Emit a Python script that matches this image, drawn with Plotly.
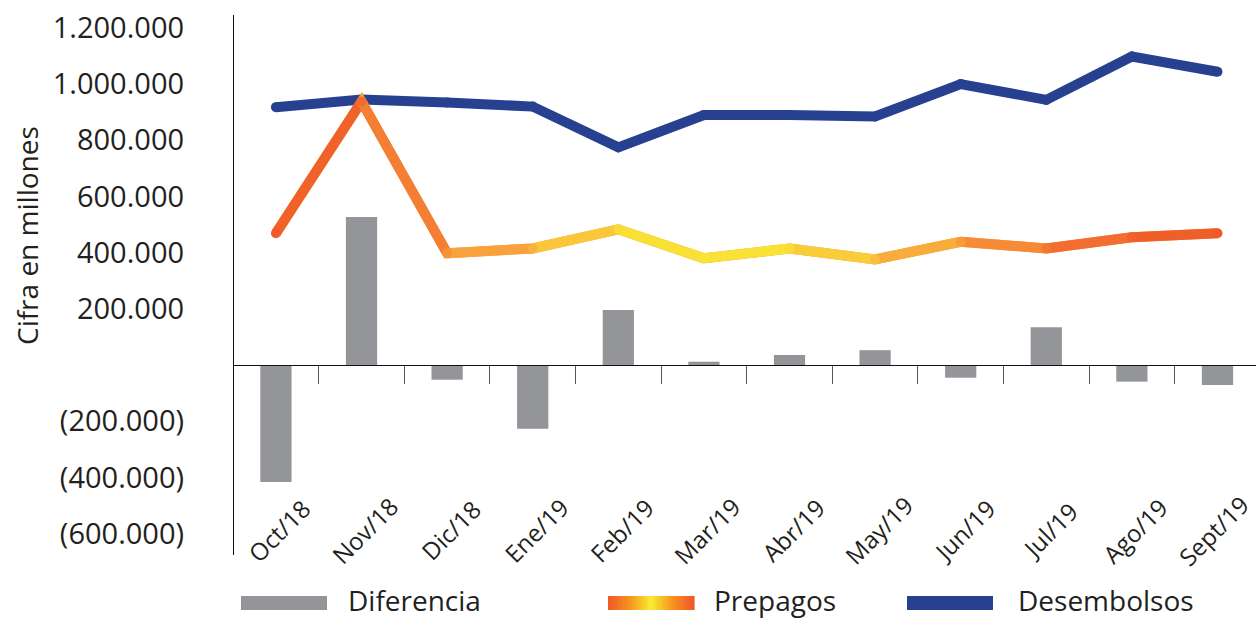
import plotly.graph_objects as go

categories = ["Oct/18", "Nov/18", "Dic/18", "Ene/19", "Feb/19", "Mar/19",
              "Abr/19", "May/19", "Jun/19", "Jul/19", "Ago/19", "Sept/19"]
diferencia = [-416000, 527000, -52000, -227000, 196000, 12000,
              36000, 53000, -45000, 135000, -59000, -71000]
prepagos = [469000, 938000, 398000, 415000, 483000, 380000,
            415000, 376000, 439000, 415000, 455000, 469000]
desembolsos = [918000, 945000, 935000, 920000, 775000, 890000,
               890000, 885000, 1000000, 944000, 1098000, 1044000]
y_ticks = [-600000, -400000, -200000, 0, 200000, 400000, 600000, 800000, 1000000, 1200000]

# style
FONT = "Open Sans"
TXT = "#231F20"
GREY = "#939598"
BLUE = "#274190"
prep_colors = ["#F05A28", "#F26B2C", "#F7923A", "#FAB23F", "#F9DC35", "#F9E535",
               "#F9DD35", "#F9BD3F", "#F89C3A", "#F37932", "#F1612C", "#F05A28"]

W, H = 1256, 618
L, R, T, B = 234, 0, 15, 63
PW, PH = W - L - R, H - T - B


def px_x(px):
    return (px - L) / PW


def px_y(py):
    return (H - B - py) / PH


def blend(c1, c2, t=0.5):
    a = [int(c1[i:i + 2], 16) for i in (1, 3, 5)]
    b = [int(c2[i:i + 2], 16) for i in (1, 3, 5)]
    return "#" + "".join(f"{round(a[k] + (b[k] - a[k]) * t):02X}" for k in range(3))


def fmt(v):
    if v == 0:
        return ""
    s = f"{abs(v):,}".replace(",", ".")
    return f"({s})" if v < 0 else s


fig = go.Figure()

fig.add_trace(go.Bar(x=categories, y=diferencia, marker=dict(color=GREY, line=dict(width=0)),
                     width=0.365, name="Diferencia", showlegend=False))

fig.add_trace(go.Scatter(x=categories, y=desembolsos, mode="lines+markers",
                         line=dict(color=BLUE, width=10),
                         marker=dict(color=BLUE, size=10, line=dict(width=0)),
                         name="Desembolsos", showlegend=False))

# Prepagos: base line + coloured segments + coloured vertices
fig.add_trace(go.Scatter(x=categories, y=prepagos, mode="lines",
                         line=dict(color="#F6A03A", width=10), showlegend=False, hoverinfo="skip"))
for i in range(len(categories) - 1):
    fig.add_trace(go.Scatter(x=categories[i:i + 2], y=prepagos[i:i + 2], mode="lines",
                             line=dict(color=blend(prep_colors[i], prep_colors[i + 1]), width=10),
                             showlegend=False, hoverinfo="skip"))
fig.add_trace(go.Scatter(x=categories, y=prepagos, mode="markers",
                         marker=dict(color=prep_colors, size=10, line=dict(width=0)),
                         name="Prepagos", showlegend=False))

shapes = []
annotations = []

# x labels
for i, c in enumerate(categories):
    annotations.append(dict(x=c, xref="x", y=px_y(530), yref="paper", text=c,
                            xshift=3 if i < len(categories) - 1 else -4,
                            showarrow=False, textangle=-45, xanchor="center", yanchor="middle",
                            font=dict(family=FONT, size=24, color=TXT)))

# y title
annotations.append(dict(x=px_x(27), xref="paper", y=px_y(236), yref="paper",
                        text="Cifra en millones", textangle=-90, showarrow=False,
                        xanchor="center", yanchor="middle",
                        font=dict(family=FONT, size=28, color=TXT)))

# legend
leg_y0, leg_y1 = px_y(596), px_y(610)
shapes.append(dict(type="rect", xref="paper", yref="paper", x0=px_x(241), x1=px_x(327),
                   y0=leg_y0, y1=leg_y1, fillcolor=GREY, line=dict(width=0)))
shapes.append(dict(type="rect", xref="paper", yref="paper", x0=px_x(907), x1=px_x(993),
                   y0=leg_y0, y1=leg_y1, fillcolor=BLUE, line=dict(width=0)))
grad_stops = ["#F15A29", "#F7941D", "#F9ED32", "#F7941D", "#F15A29"]
nslices = 34
gx0, gx1 = 608, 694
for k in range(nslices):
    t = k / (nslices - 1) * (len(grad_stops) - 1)
    j = min(int(t), len(grad_stops) - 2)
    col = blend(grad_stops[j], grad_stops[j + 1], t - j)
    sx0 = gx0 + (gx1 - gx0) * k / nslices
    sx1 = gx0 + (gx1 - gx0) * (k + 1) / nslices + 0.6
    shapes.append(dict(type="rect", xref="paper", yref="paper", x0=px_x(sx0), x1=px_x(sx1),
                       y0=leg_y0, y1=leg_y1, fillcolor=col, line=dict(width=0)))
for label, xp in [("Diferencia", 346), ("Prepagos", 712), ("Desembolsos", 1016)]:
    annotations.append(dict(x=px_x(xp), xref="paper", y=px_y(600), yref="paper", text=label,
                            showarrow=False, xanchor="left", yanchor="middle",
                            font=dict(family=FONT, size=28, color=TXT)))

zero_pos = px_y(365)

fig.update_layout(
    width=W, height=H,
    margin=dict(l=L, r=R, t=T, b=B, pad=0),
    paper_bgcolor="white", plot_bgcolor="white",
    showlegend=False,
    font=dict(family=FONT, color=TXT),
    xaxis=dict(type="category", range=[-0.49, 11.45], anchor="free", position=zero_pos,
               showline=True, linecolor="#111111", linewidth=1.3,
               ticks="outside", ticklen=18, tickwidth=1, tickcolor="#555555",
               tickson="boundaries", showticklabels=False, showgrid=False, zeroline=False),
    yaxis=dict(range=[-676000, 1246000], tickvals=y_ticks, ticktext=[fmt(v) for v in y_ticks],
               showline=True, linecolor="#111111", linewidth=1.3, ticks="",
               ticklabelstandoff=43, showgrid=False, zeroline=False,
               tickfont=dict(family=FONT, size=29, color=TXT)),
    shapes=shapes,
    annotations=annotations,
)

fig.write_html("out.html")
